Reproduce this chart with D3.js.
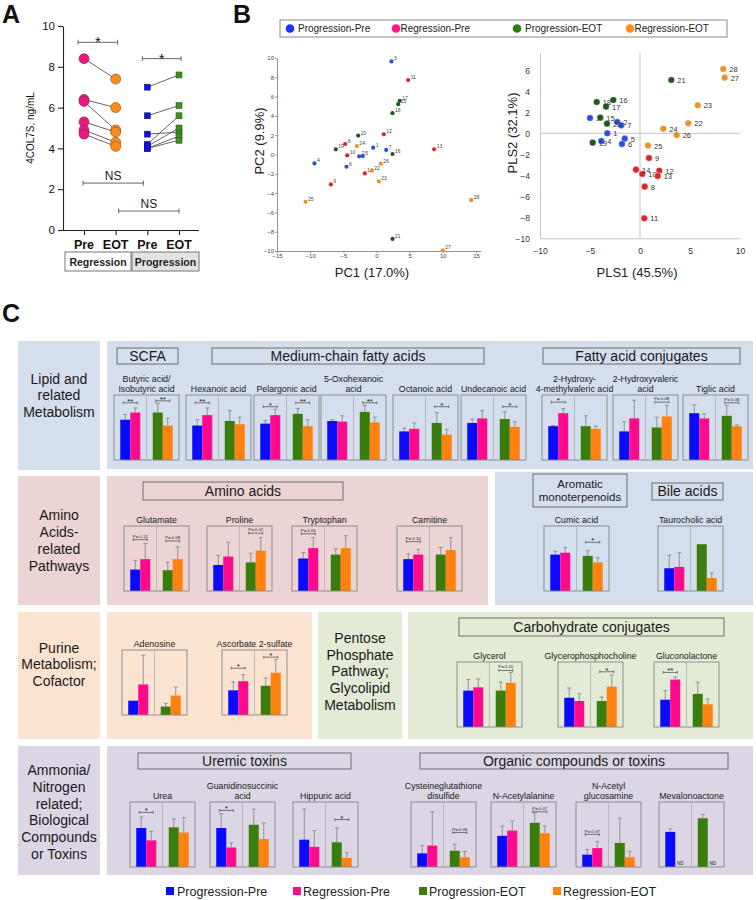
<!DOCTYPE html>
<html><head><meta charset="utf-8">
<script src="https://cdn.jsdelivr.net/npm/d3@7"></script>
<style>body{margin:0;background:#fff;} svg{display:block;font-family:"Liberation Sans",Arial,sans-serif;}</style>
</head><body><svg id="c" width="756" height="900"></svg>
<script>
// ================= DATA =================
// Panel A : 4COL7S (ng/mL), paired samples
const aRegPre  = [8.4, 6.4, 6.3, 5.3, 4.9, 4.7];
const aRegEOT  = [7.4, 6.0, 4.9, 4.8, 4.3, 4.1];
const aProgPre = [7.0, 5.6, 4.7, 4.2, 4.1, 4.0, 4.0];
const aProgEOT = [7.6, 6.1, 4.8, 5.6, 5.0, 4.6, 4.4];
const aCatKeys = ["RPre", "REOT", "PPre", "PEOT"];
const aCatLabels = ["Pre", "EOT", "Pre", "EOT"];
const aGroupLabels = ["Regression", "Progression"];
const aYTicks = [0, 2, 4, 6, 8, 10];

// Panel B : sample scores (sample id 1..28)
const groupNames = ["Progression-Pre", "Regression-Pre", "Progression-EOT", "Regression-EOT"];
const sampleIds   = [1,2,3,4,5,6,7,8,9,10,11,12,13,14,15,16,17,18,19,20,21,22,23,24,25,26,27,28];
const sampleGroup = [0,0,0,0,0,0,0,1,1,1,1,1,1,1,2,2,2,2,2,2,2,3,3,3,3,3,3,3];
const pcaX = [-0.5,-2.61,2.26,-9.35,-2.06,-4.52,1.46,-4.72,-6.88,-4.42,4.77,1.1,8.69,-1.76,3.27,2.41,3.5,2.41,-6.13,-2.76,2.41,-0.7,0.35,-2.96,-10.7,0.65,10.0,14.27];
const pcaY = [0.71,-0.19,9.65,-0.92,-0.16,-1.27,0.47,1.09,-3.1,-0.09,7.71,2.1,0.54,-1.96,5.22,0.05,5.56,4.28,0.54,1.96,-8.75,-1.68,-2.79,0.88,-4.9,-0.95,-9.93,-4.73];
const plsX = [-3.27,-2.27,-5.0,-3.87,-1.53,-1.8,-1.87,0.47,0.9,0.23,0.43,1.93,1.77,-0.4,-3.97,-2.67,-3.4,-4.33,-4.73,-3.3,3.13,4.83,5.77,2.33,0.8,3.67,8.47,8.33];
const plsY = [0,1.08,1.46,-0.73,-0.51,-1.02,0.76,-5.08,-2.35,-3.87,-8.1,-3.56,-4.06,-3.46,1.49,3.17,2.54,2.98,-0.89,0.92,5.08,0.95,2.67,0.44,-1.17,-0.16,5.3,6.13];
const pcaXTicks = [-15,-10,-5,0,5,10,15];
const pcaYTicks = [-10,-8,-6,-4,-2,0,2,4,6,8,10];
const plsXTicks = [-10,-5,0,5,10];
const plsYTicks = [-10,-8,-6,-4,-2,0,2,4,6];

// Panel C : relative levels (mean and upper error) per metabolite
const metNames = ["Butyric acid/\nIsobutyric acid","Hexanoic acid","Pelargonic acid","5-Oxohexanoic\nacid","Octanoic acid","Undecanoic acid","2-Hydroxy-\n4-methylvaleric acid","2-Hydroxyvaleric\nacid","Tiglic acid",
  "Glutamate","Proline","Tryptophan","Carnitine","Cumic acid","Taurocholic acid",
  "Adenosine","Ascorbate 2-sulfate","Glycerol","Glycerophosphocholine","Gluconolactone",
  "Urea","Guanidinosuccinic\nacid","Hippuric acid","Cysteineglutathione\ndisulfide","N-Acetylalanine","N-Acetyl\nglucosamine","Mevalonoactone"];
const progPre  = [62,53,56,60,44,57,52,44,72, 33,40,50,49,56,35, 22,38,56,45,42, 60,60,42,21,48,19,54];
const regPre   = [73,69,69,59,48,64,72,64,64, 49,53,66,56,59,37, 47,52,61,40,73, 41,30,31,33,56,29,null];
const progEOT  = [73,60,71,74,57,63,52,50,68, 32,44,56,56,54,72, 13,45,56,40,51, 61,65,38,25,68,37,75];
const regEOT   = [53,55,52,58,39,51,48,67,52, 49,62,66,63,44,20, 30,65,68,62,35, 53,43,14,15,52,15,null];
const progPreErr = [8,9,5,2,5,6,1,15,13, 14,15,9,8,5,20, 0,13,17,15,14, 17,22,47,12,15,8,5];
const regPreErr  = [7,11,9,9,9,12,7,28,7, 24,22,16,8,8,22, 45,10,13,11,4, 14,7,25,52,15,10,0];
const progEOTErr = [14,16,8,10,16,11,16,16,16, 12,14,9,11,8,0, 5,12,13,6,18, 13,24,22,10,15,38,6];
const regEOTErr  = [11,11,10,8,8,8,4,17,2, 19,20,19,19,7,8, 13,20,16,18,8, 23,25,8,9,11,9,0];
const sigPre    = ["**","**","*","","","","*","","", "P= 0.12","","P= 0.05","P= 0.10","","", "","*","","","**", "*","*","","","","P= 0.07",""];
const sigPreLvl = [88,88,82,0,0,0,89,0,0, 79,0,88,76,0,0, 0,72,0,0,84, 84,87,0,0,0,50,0];
const sigEOT    = ["**","","**","**","*","*","","P= 0.08","P= 0.08", "P= 0.08","P= 0.07","","","*","", "","*","P= 0.10","*","", "","","*","P= 0.09","P= 0.07","",""];
const sigEOTLvl = [91,0,88,88,82,82,0,89,88, 77,89,0,0,75,0, 0,89,87,85,0, 0,0,73,53,85,0,0];

// ================= LAYOUT / STYLE =================
const svg = d3.select("#c");
svg.append("rect").attr("width",756).attr("height",900).attr("fill","#fff");
const TXT = "#1a1a1a";

function textLines(g, x, yCenter, lines, size, lh, opts={}) {
  const n = lines.length;
  const y0 = yCenter - (n-1)*lh/2 + size*0.35;
  lines.forEach((l,i)=>{
    g.append("text").attr("x",x).attr("y",y0+i*lh).attr("text-anchor",opts.anchor||"middle")
      .attr("font-size",size).attr("font-weight",opts.weight||"normal").attr("fill",opts.fill||TXT).text(l);
  });
}
function bracket(g, x1, x2, y, label, size, tick, color, labelDy) {
  g.append("line").attr("x1",x1).attr("x2",x2).attr("y1",y).attr("y2",y).attr("stroke",color).attr("stroke-width",0.9);
  [x1,x2].forEach(x=>g.append("line").attr("x1",x).attr("x2",x).attr("y1",y-tick).attr("y2",y+tick).attr("stroke",color).attr("stroke-width",0.9));
  g.append("text").attr("x",(x1+x2)/2).attr("y",y+labelDy).attr("text-anchor","middle").attr("font-size",size).attr("fill",TXT).text(label);
}

// Panel letters
[["A",2,23],["B",233,23],["C",2,322]].forEach(([t,x,y])=>svg.append("text").attr("x",x).attr("y",y)
  .attr("font-size",25).attr("font-weight","bold").attr("fill","#111").text(t));

// ================= PANEL A =================
(function(){
  const g = svg.append("g");
  const y = d3.scaleLinear().domain([0,10]).range([230,26]);
  const x = d3.scalePoint().domain(aCatKeys).range([84,179]);
  g.append("g").attr("transform","translate(63,0)")
    .call(d3.axisLeft(y).tickValues(aYTicks).tickSize(5).tickSizeOuter(0).tickPadding(3))
    .call(a=>{a.selectAll("text").attr("font-size",11.5).attr("fill","#111").attr("font-family","Liberation Sans, Arial");
      a.selectAll("line,path").attr("stroke","#222").attr("stroke-width",1.1);});
  g.append("line").attr("x1",63).attr("x2",199).attr("y1",y(0)+0.5).attr("y2",y(0)+0.5).attr("stroke","#222").attr("stroke-width",1.1);
  g.append("g").attr("transform",`translate(0,${y(0)})`)
    .call(d3.axisBottom(x).tickSize(5).tickFormat(""))
    .call(a=>{a.select(".domain").remove(); a.selectAll("line").attr("stroke","#222").attr("stroke-width",1.1);});
  aCatKeys.forEach((k,i)=>g.append("text").attr("x",x(k)).attr("y",249).attr("text-anchor","middle")
    .attr("font-size",12.5).attr("font-weight","bold").attr("fill","#111").text(aCatLabels[i]));
  // group boxes
  g.append("rect").attr("x",65).attr("y",252).attr("width",66).attr("height",19).attr("fill","#fff").attr("stroke","#777");
  g.append("rect").attr("x",132).attr("y",252).attr("width",67).attr("height",19).attr("fill","#e3e3e3").attr("stroke","#777");
  g.append("text").attr("x",98).attr("y",265.5).attr("text-anchor","middle").attr("font-size",10.5).attr("font-weight","bold").attr("fill","#222").text(aGroupLabels[0]);
  g.append("text").attr("x",165.5).attr("y",265.5).attr("text-anchor","middle").attr("font-size",10.5).attr("font-weight","bold").attr("fill","#222").text(aGroupLabels[1]);
  // y label
  g.append("text").attr("transform",`translate(34,128) rotate(-90)`).attr("text-anchor","middle")
    .attr("font-size",10).attr("fill","#111").text("4COL7S, ng/mL");
  // lines
  aRegPre.forEach((v,i)=>g.append("line").attr("x1",x("RPre")).attr("y1",y(v)).attr("x2",x("REOT")).attr("y2",y(aRegEOT[i])).attr("stroke","#555").attr("stroke-width",0.9));
  aProgPre.forEach((v,i)=>g.append("line").attr("x1",x("PPre")).attr("y1",y(v)).attr("x2",x("PEOT")).attr("y2",y(aProgEOT[i])).attr("stroke","#555").attr("stroke-width",0.9));
  // points
  aRegPre.forEach(v=>g.append("circle").attr("cx",x("RPre")).attr("cy",y(v)).attr("r",5).attr("fill","#f0167e").attr("stroke","#6a2a4a").attr("stroke-width",0.6));
  aRegEOT.forEach(v=>g.append("circle").attr("cx",x("REOT")).attr("cy",y(v)).attr("r",5).attr("fill","#ff8c1a").attr("stroke","#7a4a1a").attr("stroke-width",0.6));
  aProgPre.forEach(v=>g.append("rect").attr("x",x("PPre")-3).attr("y",y(v)-3).attr("width",6).attr("height",6).attr("fill","#1010e8").attr("stroke","#1a1a55").attr("stroke-width",0.5));
  aProgEOT.forEach(v=>g.append("rect").attr("x",x("PEOT")-3).attr("y",y(v)-3).attr("width",6).attr("height",6).attr("fill","#3f8f1f").attr("stroke","#234a14").attr("stroke-width",0.5));
  // significance
  bracket(g, x("RPre")-6, x("REOT")+2, y(9.2), "*", 15, 2.5, "#555", 5);
  bracket(g, x("PPre")-5, x("PEOT")+2, y(8.4), "*", 15, 2.5, "#555", 5);
  bracket(g, x("RPre")-1, x("PPre")-4, y(2.3), "NS", 12, 2.5, "#555", -3.5);
  bracket(g, x("REOT")+3, x("PEOT"), y(0.93), "NS", 12, 2.5, "#555", -3.5);
})();

// ================= PANEL B =================
const bColors = ["#1a33ff","#ff1a8c","#2e7d12","#ff8c1a"];
const pcaColors = ["#2a4fd8","#d8262c","#1e5a1e","#e8922a"];
(function(){
  const g = svg.append("g");
  g.append("rect").attr("x",280).attr("y",20).attr("width",447).attr("height",17).attr("fill","#fff").attr("stroke","#8a8a8a");
  const lx = [290, 396, 517, 630];
  groupNames.forEach((n,i)=>{
    g.append("circle").attr("cx",lx[i]).attr("cy",28.5).attr("r",4.3).attr("fill",bColors[i]);
    g.append("text").attr("x",lx[i]+(i%2===0?8:4.5)).attr("y",32.2).attr("font-size",10).attr("fill","#222").text(n);
  });

  // PCA
  const x = d3.scaleLinear().domain([-15,15]).range([277,476]);
  const y = d3.scaleLinear().domain([-10,10]).range([251,58]);
  const st = a=>{a.selectAll("text").attr("font-size",6).attr("fill","#444").attr("font-family","Liberation Sans, Arial");
    a.selectAll("line,path").attr("stroke","#777").attr("stroke-width",0.8);};
  g.append("g").attr("transform","translate(277,0)").call(d3.axisLeft(y).tickValues(pcaYTicks).tickSize(2).tickSizeOuter(0).tickPadding(1)).call(st);
  g.append("g").attr("transform","translate(0,251)").call(d3.axisBottom(x).tickValues(pcaXTicks).tickSize(2).tickSizeOuter(0).tickPadding(1)).call(st);
  g.append("line").attr("x1",476).attr("x2",481).attr("y1",251.5).attr("y2",251.5).attr("stroke","#777").attr("stroke-width",0.8);
  sampleIds.forEach((id,i)=>{
    g.append("circle").attr("cx",x(pcaX[i])).attr("cy",y(pcaY[i])).attr("r",2.1).attr("fill",pcaColors[sampleGroup[i]]);
    g.append("text").attr("x",x(pcaX[i])+2.5).attr("y",y(pcaY[i])-1).attr("font-size",5).attr("fill","#444").text(id);
  });
  g.append("text").attr("x",372).attr("y",276.5).attr("text-anchor","middle").attr("font-size",13).attr("fill","#222").text("PC1 (17.0%)");
  g.append("text").attr("transform","translate(264,141) rotate(-90)").attr("text-anchor","middle").attr("font-size",13).attr("fill","#222").text("PC2 (9.9%)");

  // PLS
  const px = d3.scaleLinear().domain([-10,10]).range([540,740]);
  const py = d3.scaleLinear().domain([-10,7.65]).range([238.3,53]);
  const st2 = a=>{a.selectAll("text").attr("font-size",8.5).attr("fill","#333").attr("font-family","Liberation Sans, Arial");
    a.selectAll("path").attr("stroke","#c4c4c4").attr("stroke-width",1);};
  g.append("g").attr("transform","translate(540,0)").call(d3.axisLeft(py).tickValues(plsYTicks).tickSize(0).tickPadding(10)).call(st2);
  g.append("g").attr("transform","translate(0,238.3)").call(d3.axisBottom(px).tickValues(plsXTicks).tickSize(0).tickPadding(10)).call(st2);
  g.append("line").attr("x1",px(0)).attr("x2",px(0)).attr("y1",py(7.65)).attr("y2",py(-10)).attr("stroke","#c4c4c4");
  g.append("line").attr("x1",px(-10)).attr("x2",px(10)).attr("y1",py(0)).attr("y2",py(0)).attr("stroke","#c4c4c4");
  sampleIds.forEach((id,i)=>{
    g.append("circle").attr("cx",px(plsX[i])).attr("cy",py(plsY[i])).attr("r",3.3).attr("fill",pcaColors[sampleGroup[i]]).attr("stroke","#fff").attr("stroke-width",0.4);
    g.append("text").attr("x",px(plsX[i])+6).attr("y",py(plsY[i])+3).attr("font-size",7.5).attr("fill","#333").text(id);
  });
  g.append("text").attr("x",637).attr("y",276.5).attr("text-anchor","middle").attr("font-size",13).attr("fill","#222").text("PLS1 (45.5%)");
  g.append("text").attr("transform","translate(517,133) rotate(-90)").attr("text-anchor","middle").attr("font-size",13).attr("fill","#222").text("PLS2 (32.1%)");
})();

// ================= PANEL C =================
const cBlue="#d4deed", cPink="#ecd3d4", cPeach="#fbe3d1", cGreen="#e3ebd6", cLav="#dcd5e4";
const panels = [
  [18,341,82,129,cBlue],[107,341,646,128,cBlue],
  [18,476,82,129,cPink],[107,476,381,129,cPink],[495,472,258,133,cBlue],
  [18,612,82,127,cPeach],[107,612,205,127,cPeach],[318,612,84,127,cGreen],[408,612,345,127,cGreen],
  [18,746,82,129,cLav],[107,746,646,129,cLav]
];
const gC = svg.append("g");
panels.forEach(p=>gC.append("rect").attr("x",p[0]).attr("y",p[1]).attr("width",p[2]).attr("height",p[3]).attr("fill",p[4]));

// row labels
textLines(gC, 59, 395.5, ["Lipid and","related","Metabolism"], 14, 16.5);
textLines(gC, 59, 540.5, ["Amino","Acids-","related","Pathways"], 14, 17);
textLines(gC, 59, 664.5, ["Purine","Metabolism;","Cofactor"], 14, 16.5);
textLines(gC, 360, 671.5, ["Pentose","Phosphate","Pathway;","Glycolipid","Metabolism"], 14, 16.8);
textLines(gC, 59, 812, ["Ammonia/","Nitrogen","related;","Biological","Compounds","or Toxins"], 14, 16.8);

// section headers
const headers = [
  ["SCFA",117,348,61,16,14],["Medium-chain fatty acids",212,348,272,16,14],["Fatty acid conjugates",543,348,197,16,14],
  ["Amino acids",143,482,200,18,14],["Aromatic\nmonoterpenoids",533,474,94,33,11.5],["Bile acids",652,483,71,17,14],
  ["Carbohydrate conjugates",459,618,265,18,14],
  ["Uremic toxins",138,753,213,16,14],["Organic compounds or toxins",420,753,308,16,14]
];
headers.forEach(h=>{
  gC.append("rect").attr("x",h[1]).attr("y",h[2]).attr("width",h[3]).attr("height",h[4]).attr("fill","none").attr("stroke","#6e6e6e").attr("stroke-width",1);
  textLines(gC, h[1]+h[3]/2, h[2]+h[4]/2, h[0].split("\n"), h[5], 13);
});

// metabolite charts
const chartPos = [[114,395],[186,395],[254,395],[321,395],[393,395],[461,395],[542,395],[613,395],[683,395],
  [124,526],[207,526],[292,526],[397,526],[544,526],[658,526],
  [122,650],[222,650],[457,662],[558,662],[654,662],
  [130,802],[210,802],[293,802],[411,802],[491,802],[576,802],[659,802]];
const barColors = ["#0a0aff","#ff0a8c","#3b7d0c","#ff8210"];
const CW=65, CH=65;
const xT = d3.scaleBand().domain(["Pre","EOT"]).range([0,CW]);
const xG = d3.scaleBand().domain(["Progression","Regression"]).range([0,xT.bandwidth()]).paddingOuter(0.625);
const yC = d3.scaleLinear().domain([0,100]).range([CH,0]);
metNames.forEach((name,i)=>{
  const g = gC.append("g").attr("transform",`translate(${chartPos[i][0]},${chartPos[i][1]})`);
  const lines = name.split("\n");
  lines.forEach((l,k)=>g.append("text").attr("x",CW/2).attr("y",-3-(lines.length-1-k)*10).attr("text-anchor","middle")
    .attr("font-size",8.8).attr("fill",TXT).text(l));
  const series = [
    {t:"Pre",s:"Progression",v:progPre[i],e:progPreErr[i],c:barColors[0]},
    {t:"Pre",s:"Regression",v:regPre[i],e:regPreErr[i],c:barColors[1]},
    {t:"EOT",s:"Progression",v:progEOT[i],e:progEOTErr[i],c:barColors[2]},
    {t:"EOT",s:"Regression",v:regEOT[i],e:regEOTErr[i],c:barColors[3]}
  ];
  series.forEach(d=>{
    const bx = xT(d.t)+xG(d.s), bw = xG.bandwidth(), cx = bx+bw/2;
    if (d.v===null) {
      g.append("text").attr("x",cx).attr("y",CH-2.5).attr("text-anchor","middle").attr("font-size",4.5).attr("fill","#222").text("ND");
      return;
    }
    if (d.e>0) {
      g.append("line").attr("x1",cx).attr("x2",cx).attr("y1",yC(d.v)).attr("y2",yC(d.v+d.e)).attr("stroke","#8c8c8c").attr("stroke-width",0.9);
      g.append("line").attr("x1",cx-2).attr("x2",cx+2).attr("y1",yC(d.v+d.e)).attr("y2",yC(d.v+d.e)).attr("stroke","#8c8c8c").attr("stroke-width",0.9);
    }
    g.append("rect").attr("x",bx).attr("y",yC(d.v)).attr("width",bw).attr("height",CH-yC(d.v)).attr("fill",d.c);
  });
  g.append("rect").attr("width",CW).attr("height",CH).attr("fill","none").attr("stroke","#858585").attr("stroke-width",0.9);
  g.append("line").attr("x1",CW/2).attr("x2",CW/2).attr("y1",0).attr("y2",CH).attr("stroke","#a8a8a8").attr("stroke-width",0.7);
  [["Pre",sigPre[i],sigPreLvl[i]],["EOT",sigEOT[i],sigEOTLvl[i]]].forEach(([t,lab,lvl])=>{
    if (!lab) return;
    const x1 = xT(t)+xG("Progression")+xG.bandwidth()/2-2, x2 = xT(t)+xG("Regression")+xG.bandwidth()/2+2;
    const isStar = lab.indexOf("*")===0;
    bracket(g, x1, x2, yC(lvl), lab, isStar?8:4.3, 1.4, "#666", isStar?1:-2);
  });
});

// bottom legend
const legX = [166, 293, 419, 553];
groupNames.forEach((n,i)=>{
  svg.append("rect").attr("x",legX[i]).attr("y",887).attr("width",8).attr("height",8).attr("fill",barColors[i]);
  svg.append("text").attr("x",legX[i]+(i===0?11:10)).attr("y",895.5).attr("font-size",12.5).attr("fill","#222").text(n);
});
</script></body></html>
